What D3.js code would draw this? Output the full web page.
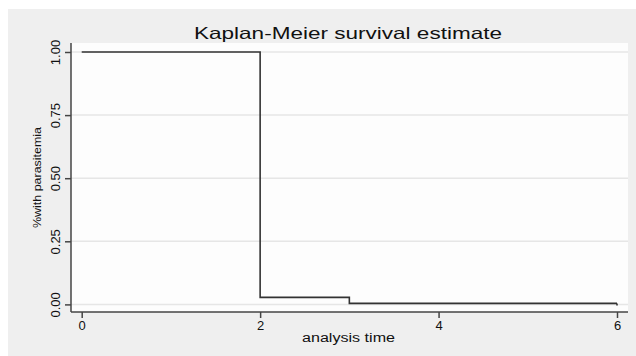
<!DOCTYPE html>
<html>
<head>
<meta charset="utf-8">
<script src="https://cdn.jsdelivr.net/npm/d3@7"></script>
<style>
  body { margin: 0; background: #fff; }
  text { font-family: "Liberation Sans", Arial, sans-serif; fill: #111; }
</style>
</head>
<body>
<div id="chart"></div>
<script>
// step points: survival holds from time[i] until the next time
const times = [0, 2, 3, 6];
const survival = [1.0, 0.028, 0.004, 0.004];
const xTicks = [0, 2, 4, 6];
const yTicks = [0, 0.25, 0.5, 0.75, 1.0];

const W = 636, H = 356;
const svg = d3.select("#chart").append("svg")
    .attr("width", W)
    .attr("height", H);

// gray outer panel
svg.append("rect")
    .attr("x", 8).attr("y", 9)
    .attr("width", W - 8).attr("height", H - 9)
    .attr("fill", "#efefef");

const plot = { left: 71, right: 628, top: 43, bottom: 312 };

// white plot region
svg.append("rect")
    .attr("x", plot.left).attr("y", plot.top)
    .attr("width", plot.right - plot.left).attr("height", plot.bottom - plot.top)
    .attr("fill", "#fdfdfd");

const xScale = d3.scaleLinear().domain([0, 6]).range([81.7, 617]);
const yScale = d3.scaleLinear().domain([0, 1]).range([304.4, 52]);

// horizontal grid lines
svg.selectAll(".grid")
    .data(yTicks)
    .enter().append("line")
    .attr("class", "grid")
    .attr("x1", plot.left).attr("x2", plot.right)
    .attr("y1", d => yScale(d)).attr("y2", d => yScale(d))
    .attr("stroke", "#e6e6e6")
    .attr("stroke-width", 1.5);

// survival step line
const line = d3.line()
    .x(d => xScale(d[0]))
    .y(d => yScale(d[1]))
    .curve(d3.curveStepAfter);

svg.append("path")
    .datum(times.map((t, i) => [t, survival[i]]))
    .attr("fill", "none")
    .attr("stroke", "#333")
    .attr("stroke-width", 1.6)
    .attr("d", line);

// small drop at the end of follow-up
svg.append("line")
    .attr("x1", xScale(6)).attr("x2", xScale(6))
    .attr("y1", yScale(survival[3])).attr("y2", yScale(survival[3]) + 2)
    .attr("stroke", "#333").attr("stroke-width", 1.6);

// X axis
const xAxis = d3.axisBottom(xScale).tickValues(xTicks).tickSize(6).tickPadding(3).tickFormat(d3.format("d"));
const gx = svg.append("g")
    .attr("transform", "translate(0," + plot.bottom + ")")
    .call(xAxis);
gx.select(".domain").remove();
gx.append("line")
    .attr("x1", plot.left).attr("x2", plot.right)
    .attr("stroke", "#444").attr("stroke-width", 1.5);
gx.selectAll(".tick line").attr("stroke", "#444").attr("stroke-width", 1.5);
gx.selectAll(".tick text").style("font-size", "13px").attr("fill", "#111");

// Y axis
const yAxis = d3.axisLeft(yScale).tickValues(yTicks).tickSize(6).tickFormat(d3.format(".2f"));
const gy = svg.append("g")
    .attr("transform", "translate(" + plot.left + ",0)")
    .call(yAxis);
gy.select(".domain").remove();
gy.append("line")
    .attr("y1", plot.top).attr("y2", plot.bottom)
    .attr("stroke", "#444").attr("stroke-width", 1.5);
gy.selectAll(".tick line").attr("stroke", "#444").attr("stroke-width", 1.5);
gy.selectAll(".tick text")
    .style("font-size", "13px")
    .attr("fill", "#111")
    .attr("x", null).attr("dy", null)
    .attr("text-anchor", "middle")
    .attr("transform", "translate(-11,0) rotate(-90)");

// title
svg.append("text")
    .attr("x", 348)
    .attr("y", 38.5)
    .attr("text-anchor", "middle")
    .attr("textLength", 308)
    .attr("lengthAdjust", "spacingAndGlyphs")
    .style("font-size", "16.5px")
    .text("Kaplan-Meier survival estimate");

// axis labels
svg.append("text")
    .attr("x", 348.5)
    .attr("y", 342)
    .attr("text-anchor", "middle")
    .attr("textLength", 93)
    .attr("lengthAdjust", "spacingAndGlyphs")
    .style("font-size", "12px")
    .text("analysis time");

svg.append("text")
    .attr("transform", "translate(41,177.5) rotate(-90)")
    .attr("text-anchor", "middle")
    .attr("textLength", 101)
    .attr("lengthAdjust", "spacingAndGlyphs")
    .style("font-size", "11px")
    .text("%with parasitemia");
</script>
</body>
</html>
